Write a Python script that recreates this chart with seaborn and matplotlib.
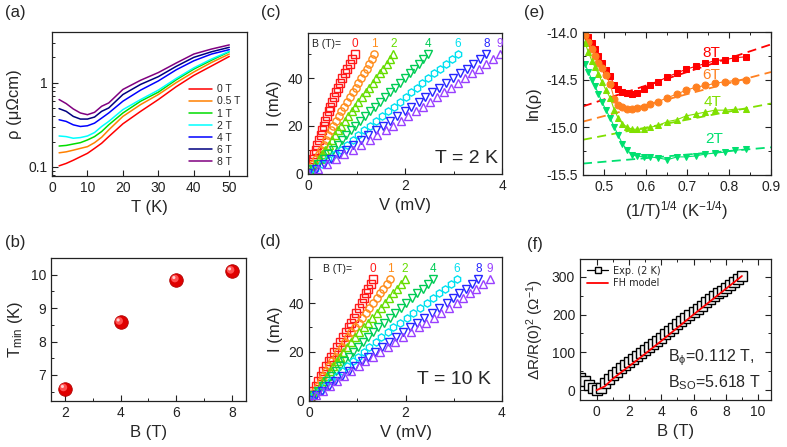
import numpy as np
import pandas as pd
import matplotlib
matplotlib.use("Agg")
import matplotlib.pyplot as plt
import matplotlib.ticker as ticker
import matplotlib.transforms as mtransforms
import seaborn as sns

# ---------------- data ----------------
# (a) resistivity vs temperature
temp_a = [2, 4, 6, 8, 10, 12, 14, 16, 20, 25, 30, 35, 40, 45, 50]
fields_a = ["0 T", "0.5 T", "1 T", "2 T", "4 T", "6 T", "8 T"]
rho_0T = [0.103, 0.110, 0.120, 0.132, 0.145, 0.166, 0.191, 0.229, 0.325, 0.457, 0.631, 0.895, 1.22, 1.58, 2.05]
rho_05T = [0.147, 0.151, 0.158, 0.166, 0.174, 0.194, 0.225, 0.275, 0.398, 0.550, 0.724, 1.00, 1.34, 1.74, 2.19]
rho_1T = [0.177, 0.180, 0.187, 0.194, 0.209, 0.229, 0.263, 0.316, 0.437, 0.603, 0.773, 1.08, 1.45, 1.85, 2.33]
rho_2T = [0.233, 0.229, 0.219, 0.223, 0.233, 0.256, 0.302, 0.347, 0.479, 0.631, 0.817, 1.12, 1.50, 1.91, 2.36]
rho_4T = [0.363, 0.347, 0.316, 0.302, 0.308, 0.331, 0.380, 0.437, 0.603, 0.817, 1.05, 1.42, 1.82, 2.19, 2.47]
rho_6T = [0.492, 0.457, 0.398, 0.370, 0.370, 0.391, 0.457, 0.501, 0.724, 0.955, 1.18, 1.56, 2.00, 2.33, 2.63]
rho_8T = [0.631, 0.565, 0.488, 0.437, 0.417, 0.445, 0.525, 0.575, 0.832, 1.07, 1.32, 1.71, 2.19, 2.51, 2.81]
colors_a = ["#ff0000", "#ff8000", "#00dd00", "#00ffff", "#0000ff", "#000080", "#800080"]

# (b) T_min vs field
field_b = [2, 4, 6, 8]
tmin_b = [6.58, 8.57, 9.84, 10.10]

# (c)/(d) I-V curves
current = [0, 2, 4, 6, 8, 10, 12, 14, 16, 18, 20, 22, 24, 26, 28, 30, 32, 34, 36, 38, 40, 42, 44, 46, 48, 50]
fields_iv = ["0", "1", "2", "4", "6", "8", "9"]
colors_iv = ["#ff1a1a", "#ff8c1a", "#66dd00", "#00cc55", "#00e0f0", "#2626ff", "#9940ff"]
markers_iv = ["s", "o", "^", "v", "h", "v", "^"]
v2K = {
    "0": [0, 0.03, 0.06, 0.10, 0.13, 0.16, 0.19, 0.22, 0.26, 0.29, 0.32, 0.35, 0.39, 0.43, 0.46, 0.50, 0.54, 0.58, 0.62, 0.67, 0.71, 0.76, 0.81, 0.86, 0.91, 0.96],
    "1": [0, 0.05, 0.11, 0.16, 0.22, 0.27, 0.32, 0.37, 0.42, 0.47, 0.52, 0.57, 0.63, 0.69, 0.74, 0.80, 0.86, 0.92, 0.98, 1.04, 1.10, 1.15, 1.21, 1.26, 1.32, 1.37],
    "2": [0, 0.07, 0.14, 0.22, 0.29, 0.36, 0.43, 0.49, 0.56, 0.62, 0.69, 0.76, 0.83, 0.90, 0.97, 1.04, 1.11, 1.19, 1.26, 1.34, 1.41, 1.48, 1.55, 1.62, 1.69, 1.76],
    "4": [0, 0.11, 0.21, 0.32, 0.42, 0.52, 0.61, 0.70, 0.79, 0.88, 0.97, 1.07, 1.17, 1.28, 1.38, 1.48, 1.58, 1.69, 1.79, 1.90, 2.00, 2.10, 2.19, 2.29, 2.38, 2.48],
    "6": [0, 0.14, 0.28, 0.41, 0.55, 0.68, 0.80, 0.92, 1.04, 1.16, 1.28, 1.40, 1.53, 1.65, 1.78, 1.90, 2.02, 2.13, 2.25, 2.36, 2.48, 2.60, 2.72, 2.85, 2.97, 3.09],
    "8": [0, 0.17, 0.33, 0.48, 0.63, 0.78, 0.93, 1.09, 1.24, 1.40, 1.55, 1.70, 1.84, 1.99, 2.13, 2.28, 2.42, 2.56, 2.71, 2.85, 2.99, 3.13, 3.27, 3.40, 3.54, 3.68],
    "9": [0, 0.20, 0.39, 0.57, 0.75, 0.93, 1.10, 1.27, 1.43, 1.60, 1.76, 1.91, 2.06, 2.22, 2.37, 2.52, 2.66, 2.81, 2.95, 3.10, 3.24, 3.38, 3.52, 3.67, 3.81, 3.95],
}
v10K = {
    "0": [0, 0.05, 0.09, 0.14, 0.19, 0.24, 0.29, 0.35, 0.41, 0.46, 0.52, 0.58, 0.64, 0.70, 0.76, 0.82, 0.88, 0.93, 0.98, 1.04, 1.09, 1.14, 1.19, 1.23, 1.28, 1.32],
    "1": [0, 0.06, 0.12, 0.18, 0.24, 0.30, 0.36, 0.42, 0.48, 0.55, 0.61, 0.68, 0.74, 0.81, 0.88, 0.95, 1.03, 1.10, 1.18, 1.25, 1.33, 1.40, 1.47, 1.54, 1.61, 1.68],
    "2": [0, 0.08, 0.15, 0.23, 0.30, 0.37, 0.44, 0.50, 0.57, 0.64, 0.71, 0.79, 0.87, 0.96, 1.04, 1.13, 1.22, 1.31, 1.40, 1.49, 1.58, 1.66, 1.74, 1.83, 1.91, 1.99],
    "4": [0, 0.09, 0.18, 0.28, 0.37, 0.46, 0.55, 0.64, 0.73, 0.83, 0.92, 1.02, 1.12, 1.23, 1.33, 1.44, 1.56, 1.67, 1.79, 1.90, 2.02, 2.13, 2.24, 2.36, 2.47, 2.58],
    "6": [0, 0.11, 0.23, 0.34, 0.46, 0.57, 0.68, 0.79, 0.91, 1.02, 1.13, 1.25, 1.38, 1.50, 1.63, 1.75, 1.89, 2.03, 2.16, 2.30, 2.44, 2.56, 2.69, 2.81, 2.94, 3.06],
    "8": [0, 0.14, 0.27, 0.41, 0.54, 0.68, 0.82, 0.96, 1.09, 1.23, 1.37, 1.51, 1.66, 1.80, 1.95, 2.09, 2.24, 2.39, 2.55, 2.70, 2.85, 2.98, 3.11, 3.25, 3.38, 3.51],
    "9": [0, 0.15, 0.29, 0.44, 0.58, 0.73, 0.88, 1.03, 1.17, 1.32, 1.47, 1.63, 1.79, 1.95, 2.11, 2.27, 2.43, 2.59, 2.74, 2.90, 3.06, 3.20, 3.34, 3.47, 3.61, 3.75],
}

# (e) ln(rho) vs (1/T)^(1/4)
x_e = [0.455, 0.463, 0.471, 0.479, 0.487, 0.495, 0.505, 0.515, 0.525, 0.534, 0.544, 0.556, 0.568,
       0.580, 0.595, 0.611, 0.630, 0.652, 0.675, 0.697, 0.720, 0.743, 0.766, 0.790, 0.814, 0.840]
lnrho_8T = [-13.98, -14.05, -14.12, -14.18, -14.25, -14.32, -14.40, -14.46, -14.56, -14.60, -14.63, -14.64, -14.65,
            -14.64, -14.60, -14.56, -14.52, -14.47, -14.43, -14.39, -14.36, -14.33, -14.30, -14.29, -14.27, -14.26]
lnrho_6T = [-14.03, -14.11, -14.18, -14.25, -14.32, -14.38, -14.45, -14.55, -14.70, -14.77, -14.79, -14.81, -14.81,
            -14.80, -14.79, -14.76, -14.73, -14.69, -14.65, -14.61, -14.58, -14.56, -14.54, -14.52, -14.51, -14.50]
lnrho_4T = [-14.12, -14.21, -14.30, -14.37, -14.44, -14.52, -14.61, -14.69, -14.82, -14.90, -14.96, -15.00, -15.02,
            -15.02, -15.02, -15.00, -14.98, -14.94, -14.92, -14.88, -14.86, -14.84, -14.82, -14.82, -14.81, -14.81]
lnrho_2T = [-14.34, -14.42, -14.50, -14.57, -14.65, -14.73, -14.82, -14.90, -15.00, -15.08, -15.17, -15.24, -15.29,
            -15.30, -15.31, -15.31, -15.32, -15.34, -15.31, -15.31, -15.30, -15.28, -15.27, -15.26, -15.24, -15.23]
fit_x = [0.45, 0.90]
fit_8T = [-14.78, -14.13]
fit_6T = [-14.94, -14.42]
fit_4T = [-15.13, -14.75]
fit_2T = [-15.38, -15.21]
labels_e = ["8T", "6T", "4T", "2T"]
colors_e = ["#ff0000", "#ff8020", "#80e000", "#00e070"]
markers_e = ["s", "o", "^", "v"]

# (f) magnetoconductance
b_exp = [-1.0, -0.75, -0.5, -0.25, 0.0, 0.25, 0.5, 0.75, 1.0, 1.25, 1.5, 1.75, 2.0, 2.25, 2.5, 2.75, 3.0,
         3.25, 3.5, 3.75, 4.0, 4.25, 4.5, 4.75, 5.0, 5.25, 5.5, 5.75, 6.0, 6.25, 6.5, 6.75, 7.0, 7.25,
         7.5, 7.75, 8.0, 8.25, 8.5, 8.75, 9.0]
dr_exp = [32, 24, 15, 6, 0, 5, 19, 30, 41, 49, 58, 66, 74, 82, 90, 98, 106, 114, 123, 131, 139, 148,
          156, 165, 174, 182, 190, 199, 207, 215, 223, 232, 240, 248, 256, 263, 271, 279, 287, 294, 302]
b_fit = [0, 0.5, 1, 2, 3, 4, 5, 6, 7, 8, 9]
dr_fit = [0, 10, 30, 63, 96, 130, 165, 200, 234, 268, 302]

# ---------------- style ----------------
sns.set_theme(style="ticks")
plt.rcParams["font.family"] = ["Liberation Sans", "DejaVu Sans"]
plt.rcParams["mathtext.default"] = "regular"
plt.rcParams["axes.unicode_minus"] = False
plt.rcParams["axes.edgecolor"] = "#222222"
plt.rcParams["axes.linewidth"] = 0.9

TICK = 10
LAB = 12

fig = plt.figure(figsize=(7.87, 4.47), dpi=100)
W, H = 787, 447


def add_ax(x0, y0, x1, y1):
    return fig.add_axes([x0 / W, 1 - y1 / H, (x1 - x0) / W, (y1 - y0) / H])


def style(ax, mirror=False):
    ax.tick_params(which="both", direction="in", labelsize=TICK, colors="#222222",
                   top=mirror, right=mirror)
    ax.tick_params(which="major", length=4, width=0.8)
    ax.tick_params(which="minor", length=2, width=0.7)
    ax.xaxis.label.set_size(LAB)
    ax.yaxis.label.set_size(LAB)


ax_a = add_ax(52, 32, 247, 176)
ax_c = add_ax(308, 33, 502, 174)
ax_e = add_ax(583, 32, 771, 175)
ax_b = add_ax(51, 258, 246, 401)
ax_d = add_ax(309, 257, 502, 401)
ax_f = add_ax(580, 259, 771, 400)

# ---- (a)
rho_all = [rho_0T, rho_05T, rho_1T, rho_2T, rho_4T, rho_6T, rho_8T]
df_a = pd.DataFrame({
    "T": np.tile(temp_a, len(fields_a)),
    "rho": np.concatenate(rho_all),
    "field": np.repeat(fields_a, len(temp_a)),
})
sns.lineplot(data=df_a, x="T", y="rho", hue="field", palette=colors_a, lw=1.1, ax=ax_a)
ax_a.set_yscale("log")
ax_a.set_xlim(0, 55)
ax_a.set_ylim(0.078, 4.0)
ax_a.xaxis.set_major_locator(ticker.MultipleLocator(10))
ax_a.yaxis.set_major_locator(ticker.FixedLocator([0.1, 1]))
ax_a.yaxis.set_major_formatter(ticker.FuncFormatter(lambda v, _: f"{v:g}"))
ax_a.yaxis.set_minor_formatter(ticker.NullFormatter())
ax_a.set_xlabel("T (K)")
ax_a.set_ylabel("ρ (μΩcm)")
ax_a.legend(loc="lower right", bbox_to_anchor=(1.0, 0.02), frameon=False, fontsize=7.5,
            handlelength=2.2, labelspacing=0.2, handletextpad=0.5, borderaxespad=0.2)
style(ax_a)

# ---- (b)
sns.scatterplot(x=field_b, y=tmin_b, s=95, color="#e00000", edgecolor="#b00000", linewidth=0.6, ax=ax_b, zorder=3)
hl = mtransforms.offset_copy(ax_b.transData, fig=fig, x=-1.5, y=1.5, units="dots")
ax_b.scatter(field_b, tmin_b, s=30, color="#ff5050", edgecolor="none", transform=hl, zorder=4)
hl2 = mtransforms.offset_copy(ax_b.transData, fig=fig, x=-2.5, y=2.5, units="dots")
ax_b.scatter(field_b, tmin_b, s=5, color="#ffd0d0", edgecolor="none", transform=hl2, zorder=5)
ax_b.set_xlim(1.5, 8.5)
ax_b.set_ylim(6.22, 10.5)
ax_b.xaxis.set_major_locator(ticker.MultipleLocator(2))
ax_b.xaxis.set_minor_locator(ticker.MultipleLocator(1))
ax_b.yaxis.set_major_locator(ticker.MultipleLocator(1))
ax_b.yaxis.set_minor_locator(ticker.MultipleLocator(0.5))
ax_b.set_xlabel("B (T)")
ax_b.set_ylabel("T$_{min}$ (K)")
style(ax_b)


# ---- (c) and (d)
def iv_panel(ax, vdata, label_y, btext_x, temp_text, text_pos):
    for f, c, m in zip(fields_iv, colors_iv, markers_iv):
        sns.lineplot(x=vdata[f], y=current, ax=ax, sort=False, estimator=None,
                     linestyle="none", marker=m, markersize=5.2, markerfacecolor="none",
                     markeredgecolor=c, markeredgewidth=1.0, color=c)
        ax.text(vdata[f][-1], label_y, f, color=c, fontsize=8.5, ha="center", va="center")
    ax.text(btext_x, label_y, "B (T)=", color="#222222", fontsize=7.5, ha="left", va="center")
    ax.text(text_pos[0], text_pos[1], temp_text, transform=ax.transAxes, fontsize=14,
            ha="right", va="center")
    ax.set_xlim(0, 4)
    ax.set_ylim(-0.3, 59)
    ax.xaxis.set_major_locator(ticker.MultipleLocator(2))
    ax.xaxis.set_minor_locator(ticker.MultipleLocator(1))
    ax.yaxis.set_major_locator(ticker.MultipleLocator(20))
    ax.yaxis.set_minor_locator(ticker.MultipleLocator(10))
    ax.set_xlabel("V (mV)")
    ax.set_ylabel("I (mA)")
    style(ax)


iv_panel(ax_c, v2K, 54.5, 0.08, "T = 2 K", (0.98, 0.11))
iv_panel(ax_d, v10K, 54.0, 0.29, "T = 10 K", (0.94, 0.15))

# ---- (e)
series_e = [lnrho_8T, lnrho_6T, lnrho_4T, lnrho_2T]
fits_e = [fit_8T, fit_6T, fit_4T, fit_2T]
label_pos_e = [(0.757, -14.22), (0.757, -14.45), (0.761, -14.73), (0.765, -15.12)]
for y, fy, lab, c, m, pos in zip(series_e, fits_e, labels_e, colors_e, markers_e, label_pos_e):
    sns.lineplot(x=fit_x, y=fy, ax=ax_e, color=c, lw=1.3, sort=False, estimator=None)
    ax_e.lines[-1].set_dashes((5, 3))
    sns.lineplot(x=x_e, y=y, ax=ax_e, color=c, lw=0.8, marker=m, markersize=5,
                 markeredgecolor=c, sort=False, estimator=None)
    ax_e.text(pos[0], pos[1], lab, color=c, fontsize=11, ha="center", va="center")
ax_e.set_xlim(0.45, 0.90)
ax_e.set_ylim(-15.5, -14.0)
ax_e.xaxis.set_major_locator(ticker.MultipleLocator(0.1))
ax_e.xaxis.set_minor_locator(ticker.MultipleLocator(0.05))
ax_e.yaxis.set_major_locator(ticker.MultipleLocator(0.5))
ax_e.yaxis.set_minor_locator(ticker.MultipleLocator(0.25))
ax_e.xaxis.set_major_formatter(ticker.FormatStrFormatter("%.1f"))
ax_e.yaxis.set_major_formatter(ticker.FormatStrFormatter("%.1f"))
ax_e.set_xlabel("(1/T)$^{1/4}$ (K$^{-1/4}$)")
ax_e.set_ylabel("ln(ρ)")
style(ax_e, mirror=True)

# ---- (f)
sns.lineplot(x=b_exp, y=dr_exp, ax=ax_f, color="black", lw=0.9, marker="s", markersize=6.8,
             markerfacecolor="#f4f4f4", markeredgecolor="black", markeredgewidth=1.0,
             sort=False, estimator=None, label="Exp. (2 K)")
sns.lineplot(x=b_fit, y=dr_fit, ax=ax_f, color="red", lw=1.3, sort=False, estimator=None,
             label="FH model")
ax_f.set_xlim(-1.03, 10.8)
ax_f.set_ylim(-26, 347)
ax_f.xaxis.set_major_locator(ticker.MultipleLocator(2))
ax_f.xaxis.set_minor_locator(ticker.MultipleLocator(1))
ax_f.yaxis.set_major_locator(ticker.MultipleLocator(100))
ax_f.yaxis.set_minor_locator(ticker.MultipleLocator(50))
ax_f.set_xlabel("B (T)")
ax_f.set_ylabel("ΔR/R(0)$^2$ (Ω$^{-1}$)")
leg = ax_f.legend(loc="upper left", frameon=False, prop={"family": "DejaVu Sans", "size": 7},
                  handlelength=2.2, labelspacing=0.25, handletextpad=0.5, borderaxespad=0.3)
for h in leg.legend_handles:
    h.set_markersize(5)
ax_f.text(0.46, 0.30, "B$_{\\phi}$=0.112 T,", transform=ax_f.transAxes, fontsize=11.5, ha="left", va="center")
ax_f.text(0.46, 0.12, "B$_{SO}$=5.618 T", transform=ax_f.transAxes, fontsize=11.5, ha="left", va="center")
style(ax_f, mirror=True)
ax_f.yaxis.label.set_size(11)

# panel letters
for lab, x, y in [("(a)", 5, 13), ("(c)", 261, 13), ("(e)", 524, 13),
                  ("(b)", 5, 243), ("(d)", 260, 242), ("(f)", 527, 245)]:
    fig.text(x / W, 1 - y / H, lab, fontsize=12, ha="left", va="center")

fig.savefig("out.png", dpi=100)
